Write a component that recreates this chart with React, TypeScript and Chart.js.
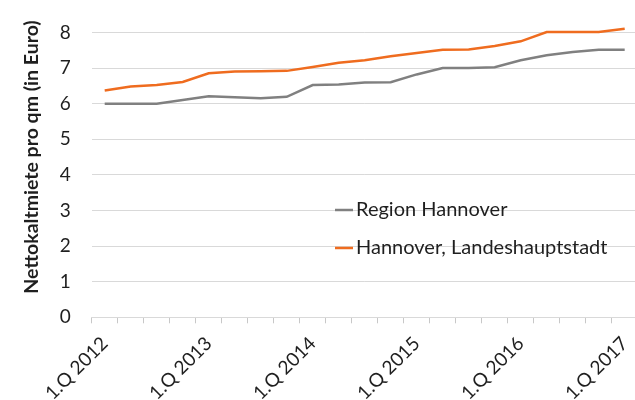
import React, { useEffect, useRef } from "react";
import { Chart, registerables } from "chart.js";

Chart.register(...registerables);

const categories = [
  "1.Q 2012", "2.Q 2012", "3.Q 2012", "4.Q 2012",
  "1.Q 2013", "2.Q 2013", "3.Q 2013", "4.Q 2013",
  "1.Q 2014", "2.Q 2014", "3.Q 2014", "4.Q 2014",
  "1.Q 2015", "2.Q 2015", "3.Q 2015", "4.Q 2015",
  "1.Q 2016", "2.Q 2016", "3.Q 2016", "4.Q 2016",
  "1.Q 2017",
];

const regionHannover = [6.0, 6.0, 6.0, 6.1, 6.21, 6.18, 6.15, 6.19, 6.52, 6.54, 6.59, 6.6, 6.82, 7.0, 7.0, 7.02, 7.22, 7.36, 7.45, 7.51, 7.51];
const landeshauptstadt = [6.37, 6.48, 6.52, 6.61, 6.85, 6.9, 6.91, 6.92, 7.03, 7.15, 7.22, 7.33, 7.42, 7.51, 7.52, 7.62, 7.75, 8.01, 8.01, 8.01, 8.1];

const seriesLabels = ["Region Hannover", "Hannover, Landeshauptstadt"];
const yTitle = "Nettokaltmiete pro qm (in Euro)";

const FONT = "Lato";
const TEXT = "#1f1f1f";

const overlayPlugin = {
  id: "overlay",
  afterDraw(chart: any) {
    const ctx = chart.ctx;
    ctx.save();
    // y axis title
    ctx.translate(32, 157);
    ctx.rotate(-Math.PI / 2);
    ctx.font = `bold 19.5px ${FONT}`;
    ctx.fillStyle = TEXT;
    ctx.textAlign = "center";
    ctx.textBaseline = "middle";
    ctx.fillText(yTitle, 0, 0);
    ctx.restore();

    // legend
    ctx.save();
    const ys = [210, 248];
    chart.data.datasets.forEach((ds: any, i: number) => {
      const y = ys[i];
      ctx.strokeStyle = ds.borderColor;
      ctx.lineWidth = 2.5;
      ctx.beginPath();
      ctx.moveTo(335, y);
      ctx.lineTo(353, y);
      ctx.stroke();
      ctx.font = `20px ${FONT}`;
      ctx.fillStyle = TEXT;
      ctx.textAlign = "left";
      ctx.textBaseline = "middle";
      ctx.fillText(ds.label, 356, y);
    });
    ctx.restore();
  },
};

export default function App() {
  const canvasRef = useRef<HTMLCanvasElement | null>(null);

  useEffect(() => {
    document.body.style.margin = "0";
    const canvas = canvasRef.current;
    if (!canvas) return;
    const chart = new Chart(canvas, {
      type: "line",
      data: {
        labels: categories,
        datasets: [
          {
            label: seriesLabels[0],
            data: regionHannover,
            borderColor: "#808080",
            backgroundColor: "#808080",
            borderWidth: 2.5,
            pointRadius: 0,
            tension: 0,
            clip: false as any,
          },
          {
            label: seriesLabels[1],
            data: landeshauptstadt,
            borderColor: "#ef6c1f",
            backgroundColor: "#ef6c1f",
            borderWidth: 2.5,
            pointRadius: 0,
            tension: 0,
            clip: false as any,
          },
        ],
      },
      options: {
        responsive: false,
        animation: false,
        devicePixelRatio: 1,
        layout: { padding: { top: 19.3, right: 22.3, left: 0, bottom: 0 } },
        plugins: {
          legend: { display: false },
          tooltip: { enabled: false },
        },
        scales: {
          x: {
            type: "category",
            offset: true,
            grid: {
              offset: true,
              drawOnChartArea: false,
              drawTicks: true,
              tickLength: 6,
              color: "#c8c8c8",
            },
            border: { display: true, color: "#d9d9d9", width: 1 },
            ticks: {
              autoSkip: false,
              minRotation: 45,
              maxRotation: 45,
              padding: 9,
              color: TEXT,
              font: { family: FONT, size: 19 },
              callback: function (this: any, _v: any, idx: number) {
                return idx % 4 === 0 ? categories[idx] : "";
              },
            },
            afterFit: (scale: any) => {
              scale.height = 82.7;
            },
          },
          y: {
            min: 0,
            max: 8,
            grid: { color: "#d9d9d9", drawTicks: false, lineWidth: 1 },
            border: { display: false },
            ticks: {
              stepSize: 1,
              padding: 21,
              color: TEXT,
              font: { family: FONT, size: 19 },
            },
            afterFit: (scale: any) => {
              scale.width = 91.7;
            },
          },
        },
      },
      plugins: [overlayPlugin],
    });
    return () => chart.destroy();
  }, []);

  return (
    <div style={{ position: "absolute", left: 0, top: 0, width: 635, height: 400, overflow: "hidden", background: "#fff" }}>
      <canvas ref={canvasRef} width={660} height={400} style={{ display: "block" }} />
    </div>
  );
}
